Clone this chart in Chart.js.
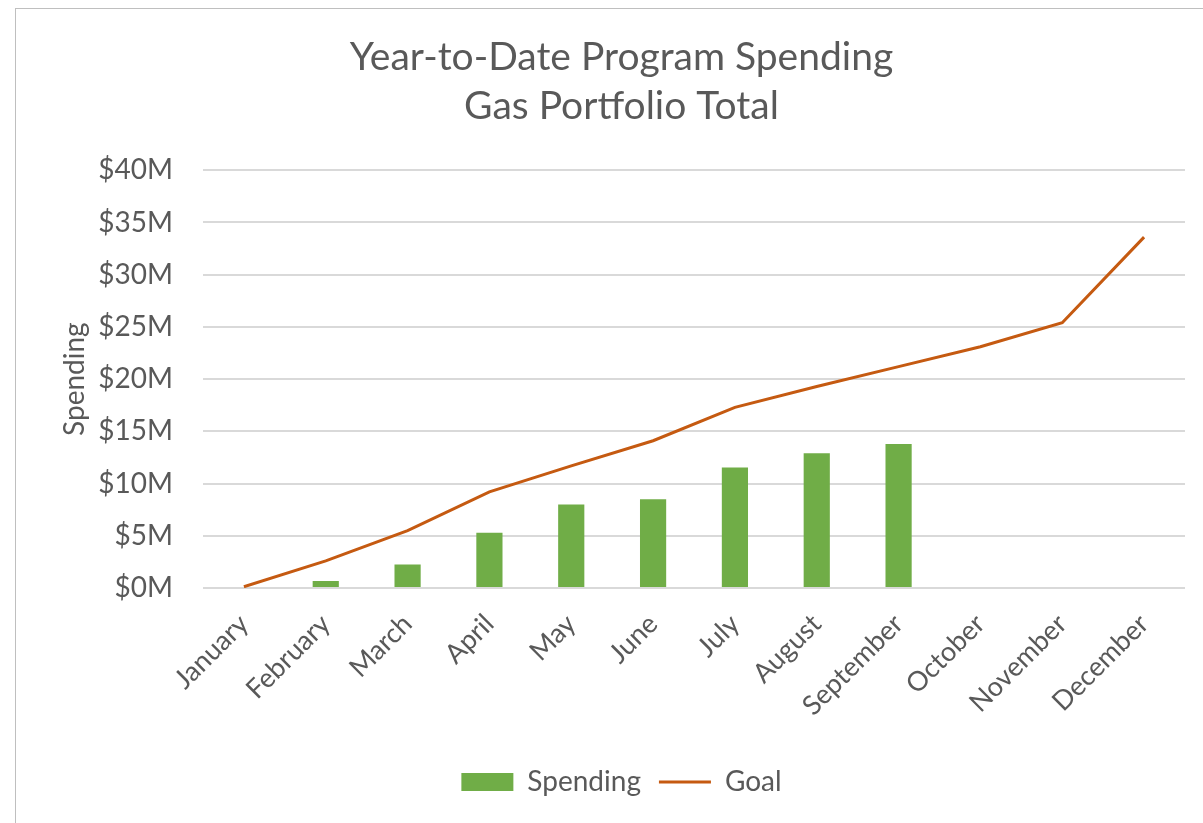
<!DOCTYPE html>
<html>
<head>
<meta charset="utf-8">
<title>Year-to-Date Program Spending</title>
<script src="https://cdn.jsdelivr.net/npm/chart.js@4.4.1/dist/chart.umd.min.js"></script>
<style>
  body { margin: 0; background: #fff; }
  #frame {
    position: absolute; left: 15px; top: 8px;
    width: 1188px; height: 815px;
    border-top: 1px solid #bfbfbf; border-left: 1px solid #bfbfbf;
  }
</style>
</head>
<body>
<div id="frame"><canvas id="spendingChart" width="1188" height="815"></canvas></div>
<script>
// chart data (millions of dollars)
const months = ['January', 'February', 'March', 'April', 'May', 'June', 'July',
                'August', 'September', 'October', 'November', 'December'];
const spending = [null, 0.67, 2.26, 5.3, 8.0, 8.5, 11.55, 12.9, 13.8, null, null, null];
const goal = [0.12, 2.6, 5.5, 9.2, 11.7, 14.1, 17.3, 19.3, 21.2, 23.1, 25.4, 33.6];
const titleLines = ['Year-to-Date Program Spending', 'Gas Portfolio Total'];

const textColor = '#595959';
const fontFamily = 'Lato, "Open Sans", sans-serif';

const ctx = document.getElementById('spendingChart').getContext('2d');
new Chart(ctx, {
    type: 'bar',
    data: {
        labels: months,
        datasets: [{
            type: 'line',
            label: 'Goal',
            data: goal,
            borderColor: '#c55a11',
            backgroundColor: '#c55a11',
            borderWidth: 3,
            pointRadius: 0,
            pointStyle: 'line',
            tension: 0,
            order: 0
        }, {
            label: 'Spending',
            data: spending,
            backgroundColor: '#70ad47',
            borderWidth: 0,
            pointStyle: 'rect',
            barPercentage: 0.32,
            categoryPercentage: 1,
            order: 1
        }]
    },
    options: {
        responsive: false,
        animation: false,
        layout: { padding: { left: 42, right: 19, top: 0, bottom: 18 } },
        plugins: {
            title: {
                display: true,
                text: titleLines,
                color: textColor,
                font: { family: fontFamily, size: 39, weight: 'normal', lineHeight: 1.26 },
                padding: { top: 24, bottom: 39 }
            },
            legend: {
                position: 'bottom',
                reverse: true,
                labels: {
                    usePointStyle: true,
                    pointStyleWidth: 52,
                    boxHeight: 18,
                    padding: 18,
                    color: textColor,
                    font: { family: fontFamily, size: 28 }
                }
            },
            tooltip: { enabled: false }
        },
        scales: {
            x: {
                grid: { display: false },
                border: { display: false },
                ticks: {
                    color: textColor,
                    font: { family: fontFamily, size: 27 },
                    maxRotation: 45,
                    minRotation: 45,
                    padding: 12
                },
                afterFit: scale => { scale.height = 162; }
            },
            y: {
                min: 0,
                max: 40,
                grid: { color: '#d9d9d9', lineWidth: 2, drawTicks: false },
                border: { display: false },
                ticks: {
                    stepSize: 5,
                    padding: 30,
                    color: textColor,
                    font: { family: fontFamily, size: 28 },
                    callback: v => '$' + v + 'M'
                },
                title: {
                    display: true,
                    text: 'Spending',
                    color: textColor,
                    font: { family: fontFamily, size: 28 },
                    padding: 0
                },
                afterFit: scale => { scale.width = 145; }
            }
        }
    }
});
</script>
</body>
</html>
